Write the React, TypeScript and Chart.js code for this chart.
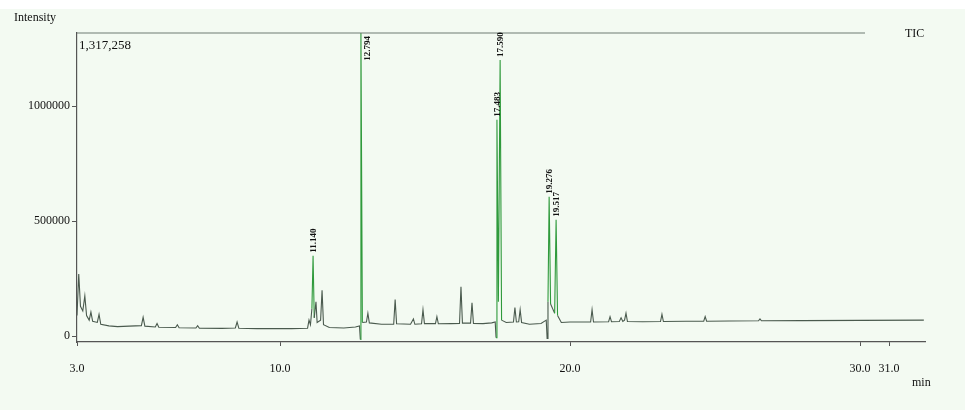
import React, { useEffect, useRef } from 'react';
import { Chart, registerables, ChartConfiguration, Plugin } from 'chart.js';

Chart.register(...registerables);

// retention time (min) and TIC intensity
const retentionTimes = [
  3.0, 3.06, 3.12, 3.2, 3.27, 3.33, 3.42, 3.48, 3.54, 3.7, 3.76, 3.82, 4.1, 4.4, 4.8,
  5.22, 5.28, 5.34, 5.7, 5.76, 5.82, 6.4, 6.46, 6.52, 7.1, 7.16, 7.22, 8.0, 8.46, 8.52,
  8.58, 9.2, 9.8, 10.4, 10.95, 11.0, 11.05, 11.1, 11.14, 11.18, 11.24, 11.28, 11.4, 11.45,
  11.5, 11.7, 12.2, 12.6, 12.74, 12.77, 12.79, 12.84, 12.98, 13.03, 13.08, 13.5, 13.92, 13.97,
  14.02, 14.5, 14.6, 14.65, 14.88, 14.93, 14.98, 15.36, 15.41, 15.46, 15.9, 16.19, 16.24,
  16.29, 16.57, 16.62, 16.67, 17.0, 17.3, 17.42, 17.45, 17.48, 17.53, 17.59, 17.64, 17.8, 18.05,
  18.1, 18.15, 18.23, 18.28, 18.33, 18.6, 19.0, 19.18, 19.21, 19.24, 19.28, 19.33, 19.4, 19.47,
  19.52, 19.57, 19.7, 20.0, 20.71, 20.76, 20.81, 21.33, 21.38, 21.43, 21.7, 21.76, 21.82,
  21.88, 21.93, 21.98, 22.5, 23.12, 23.17, 23.22, 24.0, 24.61, 24.66, 24.71, 25.5, 26.5,
  26.55, 26.6, 28.0, 30.0, 32.2,
];
const intensities = [
  90000, 270000, 130000, 110000, 175000, 90000, 70000, 105000, 65000, 60000, 95000, 52000, 45000, 42000, 44000,
  46000, 82000, 44000, 40000, 55000, 39000, 38000, 50000, 37000, 36000, 46000, 35000, 34000, 36000, 62000,
  35000, 33000, 33000, 33000, 35000, 70000, 50000, 120000, 350000, 80000, 150000, 60000, 70000, 200000,
  50000, 38000, 36000, 40000, 45000, -14000, 1317258, 60000, 62000, 100000, 58000, 52000, 52000, 160000,
  54000, 52000, 75000, 52000, 54000, 115000, 55000, 55000, 85000, 54000, 55000, 56000, 215000,
  57000, 57000, 145000, 56000, 55000, 58000, 62000, -6000, 940000, 150000, 1200000, 70000, 60000, 62000,
  125000, 62000, 63000, 115000, 60000, 52000, 55000, 70000, -10000, 150000, 606000, 140000, 120000, 100000,
  506000, 90000, 60000, 62000, 62000, 115000, 62000, 63000, 85000, 63000, 64000, 80000, 64000,
  70000, 100000, 64000, 63000, 64000, 95000, 64000, 65000, 65000, 85000, 65000, 66000, 67000,
  75000, 67000, 68000, 69000, 70000,
];

// labelled peaks
const peakTimes = [11.14, 12.79, 17.48, 17.59, 19.28, 19.52];
const peakHeights = [350000, 1317258, 940000, 1200000, 606000, 506000];
const peakLabels = ['11.140', '12.794', '17.483', '17.590', '19.276', '19.517'];

const xTicks = [3.0, 10.0, 20.0, 30.0, 31.0];
const yTicks = [0, 500000, 1000000];
const maxIntensity = 1317258;

const serif = '"Liberation Serif", "DejaVu Serif", serif';

const decorPlugin: Plugin<'line'> = {
  id: 'decor',
  beforeDraw(chart) {
    const { ctx, width, height } = chart;
    ctx.save();
    ctx.fillStyle = '#f3faf2';
    ctx.fillRect(0, 0, width, height);
    ctx.fillStyle = '#ffffff';
    ctx.fillRect(0, 0, width, 9);
    ctx.restore();
  },
  afterDatasetsDraw(chart) {
    const { ctx, chartArea } = chart;
    const xs = chart.scales.x;
    const ys = chart.scales.y;
    const top = ys.getPixelForValue(maxIntensity);
    ctx.save();

    // max line along the top
    ctx.strokeStyle = '#6f7a72';
    ctx.lineWidth = 1.2;
    ctx.beginPath();
    ctx.moveTo(chartArea.left, top);
    ctx.lineTo(chartArea.right - 60, top);
    ctx.stroke();

    ctx.fillStyle = '#111';
    ctx.font = `13px ${serif}`;
    ctx.textAlign = 'left';
    ctx.textBaseline = 'top';
    ctx.fillText(maxIntensity.toLocaleString('en-US'), chartArea.left + 2, top + 6);

    ctx.font = `12px ${serif}`;
    ctx.textBaseline = 'middle';
    ctx.fillText('Intensity', 14, 18);
    ctx.fillText('TIC', chartArea.right - 20, top + 1);
    ctx.fillText('min', chartArea.right - 13, 383);

    // retention time labels, rotated
    ctx.font = `bold 9px ${serif}`;
    peakTimes.forEach((t, i) => {
      const px = xs.getPixelForValue(t);
      const py = ys.getPixelForValue(peakHeights[i]);
      ctx.save();
      if (peakHeights[i] >= maxIntensity) {
        ctx.translate(px + 7, py + 3);
        ctx.rotate(-Math.PI / 2);
        ctx.textAlign = 'right';
      } else {
        ctx.translate(px + 1, py - 3);
        ctx.rotate(-Math.PI / 2);
        ctx.textAlign = 'left';
      }
      ctx.textBaseline = 'middle';
      ctx.fillText(peakLabels[i], 0, 0);
      ctx.restore();
    });
    ctx.restore();
  },
};

const ChromatogramChart: React.FC = () => {
  const canvasRef = useRef<HTMLCanvasElement>(null);
  const chartRef = useRef<Chart | null>(null);

  useEffect(() => {
    document.body.style.margin = '0';
    if (!canvasRef.current) return;
    const ctx = canvasRef.current.getContext('2d');
    if (!ctx) return;

    const points = retentionTimes.map((t, i) => ({ x: t, y: intensities[i] }));

    const config: ChartConfiguration<'line'> = {
      type: 'line',
      data: {
        datasets: [
          {
            label: 'TIC',
            data: points,
            borderWidth: 1.1,
            pointRadius: 0,
            tension: 0,
            borderColor: '#4a5a4e',
            segment: {
              borderColor: (c) =>
                Math.max(c.p0.parsed.y, c.p1.parsed.y) > 300000 ? '#2f9a3c' : '#4a5a4e',
            },
          },
        ],
      },
      options: {
        animation: false,
        responsive: true,
        maintainAspectRatio: false,
        layout: { padding: { left: 0, right: 40, top: 33, bottom: 0 } },
        plugins: {
          legend: { display: false },
          tooltip: { enabled: false },
        },
        scales: {
          x: {
            type: 'linear',
            min: 3.0,
            max: 32.24,
            afterBuildTicks: (s) => {
              s.ticks = xTicks.map((v) => ({ value: v }));
            },
            afterFit: (s) => {
              s.height = 68;
            },
            grid: { drawOnChartArea: false, tickLength: 4, color: '#555' },
            border: { color: '#555', width: 1.2 },
            ticks: {
              color: '#111',
              font: { family: serif, size: 12 },
              padding: 16,
              maxRotation: 0,
              autoSkip: false,
              callback: (v) => Number(v).toFixed(1),
            },
          },
          y: {
            type: 'linear',
            min: -25000,
            max: maxIntensity,
            afterBuildTicks: (s) => {
              s.ticks = yTicks.map((v) => ({ value: v }));
            },
            afterFit: (s) => {
              s.width = 77;
            },
            grid: { drawOnChartArea: false, tickLength: 5, color: '#555' },
            border: { color: '#555', width: 1.2 },
            ticks: {
              color: '#111',
              font: { family: serif, size: 12 },
              padding: 2,
              callback: (v) => String(v),
            },
          },
        },
      },
      plugins: [decorPlugin],
    };

    if (chartRef.current) chartRef.current.destroy();
    chartRef.current = new Chart(ctx, config);

    return () => {
      chartRef.current?.destroy();
      chartRef.current = null;
    };
  }, []);

  return (
    <div style={{ position: 'relative', width: 965, height: 410 }}>
      <canvas ref={canvasRef} role="img" aria-label="Total ion chromatogram, intensity against retention time in minutes" />
    </div>
  );
};

export default function App() {
  return <ChromatogramChart />;
}
